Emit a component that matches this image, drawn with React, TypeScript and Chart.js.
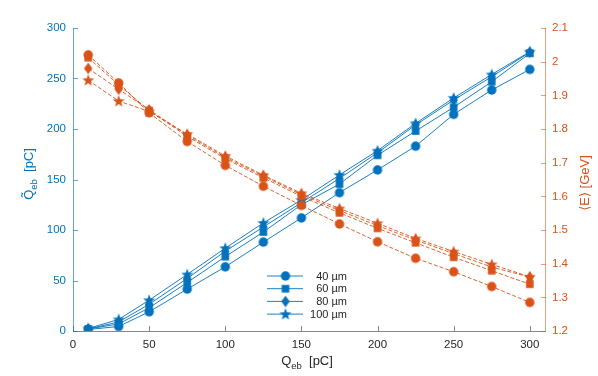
import React, { useEffect, useRef } from "react";
import { Chart, registerables } from "chart.js";

Chart.register(...registerables);

const xValues = [10, 30, 50, 75, 100, 125, 150, 175, 200, 225, 250, 275, 300];
const seriesLabels = ["40 µm", "60 µm", "80 µm", "100 µm"];
const markerShapes = ["circle", "square", "diamond", "star"];

const charge40 = [1.5, 4.5, 19, 41.5, 63.5, 88, 112, 137, 159.5, 183, 214.5, 238.6, 259];
const charge60 = [2, 7, 23, 48, 73.6, 98, 125, 145.5, 174, 198, 221.5, 246.8, 275];
const charge80 = [2, 9, 26.5, 52, 79, 103, 127, 151, 176.5, 204, 228.7, 251.8, 276];
const charge100 = [2.5, 11.5, 30.5, 56, 82, 107, 129.7, 154.5, 178.5, 205.6, 230.7, 254, 276.5];

const energy40 = [2.02, 1.937, 1.848, 1.763, 1.692, 1.63, 1.573, 1.518, 1.465, 1.416, 1.376, 1.332, 1.285];
const energy60 = [2.012, 1.931, 1.855, 1.778, 1.712, 1.655, 1.6, 1.551, 1.505, 1.462, 1.419, 1.379, 1.339];
const energy80 = [1.98, 1.918, 1.857, 1.782, 1.716, 1.66, 1.605, 1.558, 1.513, 1.47, 1.43, 1.39, 1.36];
const energy100 = [1.945, 1.883, 1.852, 1.785, 1.72, 1.663, 1.609, 1.564, 1.52, 1.475, 1.436, 1.398, 1.361];

const xTicks = [0, 50, 100, 150, 200, 250, 300];
const leftTicks = [0, 50, 100, 150, 200, 250, 300];
const rightTicks = [1.2, 1.3, 1.4, 1.5, 1.6, 1.7, 1.8, 1.9, 2.0, 2.1];
const rightTickLabels = ["1.2", "1.3", "1.4", "1.5", "1.6", "1.7", "1.8", "1.9", "2", "2.1"];

const BLUE = "#0072BD";
const ORANGE = "#D95319";
const FONT = "'Liberation Sans', Arial, 'DejaVu Sans', sans-serif";

function makeMarker(shape: string, color: string): HTMLCanvasElement {
  const c = document.createElement("canvas");
  c.width = 14;
  c.height = 14;
  const ctx = c.getContext("2d")!;
  ctx.fillStyle = color;
  ctx.beginPath();
  const cx = 7, cy = 7;
  if (shape === "circle") {
    ctx.arc(cx, cy, 4.7, 0, Math.PI * 2);
  } else if (shape === "square") {
    ctx.rect(cx - 3.8, cy - 3.8, 7.6, 7.6);
  } else if (shape === "diamond") {
    ctx.moveTo(cx, cy - 5.7);
    ctx.lineTo(cx + 4.2, cy);
    ctx.lineTo(cx, cy + 5.7);
    ctx.lineTo(cx - 4.2, cy);
    ctx.closePath();
  } else {
    const R = 6.3, r = 2.6;
    for (let k = 0; k < 10; k++) {
      const a = -Math.PI / 2 + (k * Math.PI) / 5;
      const rad = k % 2 === 0 ? R : r;
      const px = cx + rad * Math.cos(a);
      const py = cy + 0.4 + rad * Math.sin(a);
      if (k === 0) ctx.moveTo(px, py);
      else ctx.lineTo(px, py);
    }
    ctx.closePath();
  }
  ctx.fill();
  return c;
}

export default function App() {
  const canvasRef = useRef<HTMLCanvasElement | null>(null);

  useEffect(() => {
    const canvas = canvasRef.current;
    if (!canvas) return;

    const blueMarkers = markerShapes.map((s) => makeMarker(s, BLUE));
    const orangeMarkers = markerShapes.map((s) => makeMarker(s, ORANGE));
    const chargeSeries = [charge40, charge60, charge80, charge100];
    const energySeries = [energy40, energy60, energy80, energy100];

    const orangeSets = energySeries.map((arr, i) => ({
      label: seriesLabels[i] + " E",
      data: xValues.map((x, j) => ({ x, y: arr[j] })),
      yAxisID: "yR",
      borderColor: ORANGE,
      backgroundColor: ORANGE,
      borderWidth: 0.9,
      borderDash: [4, 2],
      pointStyle: orangeMarkers[i] as any,
      pointRadius: 5,
      tension: 0,
      fill: false,
    }));
    const blueSets = chargeSeries.map((arr, i) => ({
      label: seriesLabels[i],
      data: xValues.map((x, j) => ({ x, y: arr[j] })),
      yAxisID: "yL",
      borderColor: BLUE,
      backgroundColor: BLUE,
      borderWidth: 0.9,
      pointStyle: blueMarkers[i] as any,
      pointRadius: 5,
      tension: 0,
      fill: false,
    }));

    const decorPlugin = {
      id: "decor",
      afterDraw(chart: any) {
        const ctx: CanvasRenderingContext2D = chart.ctx;
        const { left, right, top, bottom } = chart.chartArea;
        const sx = chart.scales.x;
        const sl = chart.scales.yL;
        const sr = chart.scales.yR;
        ctx.save();
        ctx.lineWidth = 1;
        // bottom axis
        ctx.strokeStyle = "rgba(38,38,38,0.55)";
        ctx.beginPath();
        ctx.moveTo(left, bottom + 0.5);
        ctx.lineTo(right, bottom + 0.5);
        for (const v of xTicks) {
          const px = Math.round(sx.getPixelForValue(v)) + 0.5;
          ctx.moveTo(px, bottom);
          ctx.lineTo(px, bottom - 5);
        }
        ctx.stroke();
        // left axis
        ctx.strokeStyle = "rgba(0,114,189,0.6)";
        ctx.beginPath();
        ctx.moveTo(left + 0.5, top);
        ctx.lineTo(left + 0.5, bottom + 1);
        for (const v of leftTicks) {
          const py = Math.round(sl.getPixelForValue(v)) + 0.5;
          ctx.moveTo(left, py);
          ctx.lineTo(left + 5, py);
        }
        ctx.stroke();
        // right axis
        ctx.strokeStyle = "rgba(217,83,25,0.55)";
        ctx.beginPath();
        ctx.moveTo(right + 0.5, top);
        ctx.lineTo(right + 0.5, bottom + 1);
        for (const v of rightTicks) {
          const py = Math.round(sr.getPixelForValue(v)) + 0.5;
          ctx.moveTo(right + 1, py);
          ctx.lineTo(right - 4, py);
        }
        ctx.stroke();

        // axis titles
        const mainFont = "13px " + FONT;
        const subFont = "9.5px " + FONT;
        const drawParts = (parts: { t: string; sub?: boolean }[], cx: number, baseline: number) => {
          let w = 0;
          for (const p of parts) {
            ctx.font = p.sub ? subFont : mainFont;
            w += ctx.measureText(p.t).width;
          }
          let x = cx - w / 2;
          ctx.textBaseline = "alphabetic";
          ctx.textAlign = "left";
          for (const p of parts) {
            ctx.font = p.sub ? subFont : mainFont;
            ctx.fillText(p.t, x, baseline + (p.sub ? 3.5 : 0));
            x += ctx.measureText(p.t).width;
          }
        };
        // x title
        ctx.fillStyle = "#262626";
        drawParts([{ t: "Q" }, { t: "eb", sub: true }, { t: "  [pC]" }], (left + right) / 2 - 2, 365);
        // left title
        ctx.save();
        ctx.translate(33, 174);
        ctx.rotate(-Math.PI / 2);
        ctx.fillStyle = BLUE;
        drawParts([{ t: "Q\u0303" }, { t: "eb", sub: true }, { t: "  [pC]" }], 0, 0);
        ctx.restore();
        // right title
        ctx.save();
        ctx.translate(589, 183);
        ctx.rotate(-Math.PI / 2);
        ctx.fillStyle = ORANGE;
        drawParts([{ t: "\u27E8E\u27E9 [GeV]" }], 0, 0);
        ctx.restore();

        // legend
        ctx.font = "11px " + FONT;
        ctx.textAlign = "right";
        ctx.textBaseline = "middle";
        for (let i = 0; i < seriesLabels.length; i++) {
          const y = 276 + i * 12.7;
          ctx.strokeStyle = BLUE;
          ctx.lineWidth = 0.9;
          ctx.beginPath();
          ctx.moveTo(267, y);
          ctx.lineTo(303, y);
          ctx.stroke();
          const m = blueMarkers[i];
          ctx.drawImage(m, 285.5 - m.width / 2, y - m.height / 2);
          ctx.fillStyle = "#262626";
          ctx.fillText(seriesLabels[i], 347, y + 0.5);
        }
        ctx.restore();
      },
    };

    const chart = new Chart(canvas, {
      type: "line",
      data: { datasets: [...orangeSets, ...blueSets] as any },
      options: {
        responsive: false,
        animation: false,
        layout: { padding: { top: 28, left: 0, right: 0, bottom: 0 } },
        plugins: { legend: { display: false }, tooltip: { enabled: false } },
        scales: {
          x: {
            type: "linear",
            position: "bottom",
            min: 0,
            max: 310,
            afterBuildTicks: (s: any) => {
              s.ticks = xTicks.map((v) => ({ value: v }));
            },
            afterFit: (s: any) => {
              s.height = 45;
            },
            grid: { display: false, drawTicks: false },
            border: { display: false },
            ticks: {
              color: "#262626",
              font: { family: FONT, size: 11.5 },
              padding: 7,
              maxRotation: 0,
              autoSkip: false,
              callback: (v: any) => String(v),
            },
          },
          yL: {
            type: "linear",
            position: "left",
            min: 0,
            max: 300,
            afterBuildTicks: (s: any) => {
              s.ticks = leftTicks.map((v) => ({ value: v }));
            },
            afterFit: (s: any) => {
              s.width = 73;
            },
            grid: { display: false, drawTicks: false },
            border: { display: false },
            ticks: {
              color: BLUE,
              font: { family: FONT, size: 11.5 },
              padding: 7,
              autoSkip: false,
              callback: (v: any) => String(v),
            },
          },
          yR: {
            type: "linear",
            position: "right",
            min: 1.2,
            max: 2.1,
            afterBuildTicks: (s: any) => {
              s.ticks = rightTicks.map((v) => ({ value: v }));
            },
            afterFit: (s: any) => {
              s.width = 53;
            },
            grid: { display: false, drawTicks: false },
            border: { display: false },
            ticks: {
              color: ORANGE,
              font: { family: FONT, size: 11.5 },
              padding: 7,
              autoSkip: false,
              callback: (v: any, i: number) => rightTickLabels[i] ?? String(v),
            },
          },
        },
      } as any,
      plugins: [decorPlugin],
    });

    return () => chart.destroy();
  }, []);

  return (
    <div style={{ position: "absolute", left: 0, top: 0, width: 598, height: 376, background: "#fff" }}>
      <canvas ref={canvasRef} width={598} height={376} />
    </div>
  );
}
